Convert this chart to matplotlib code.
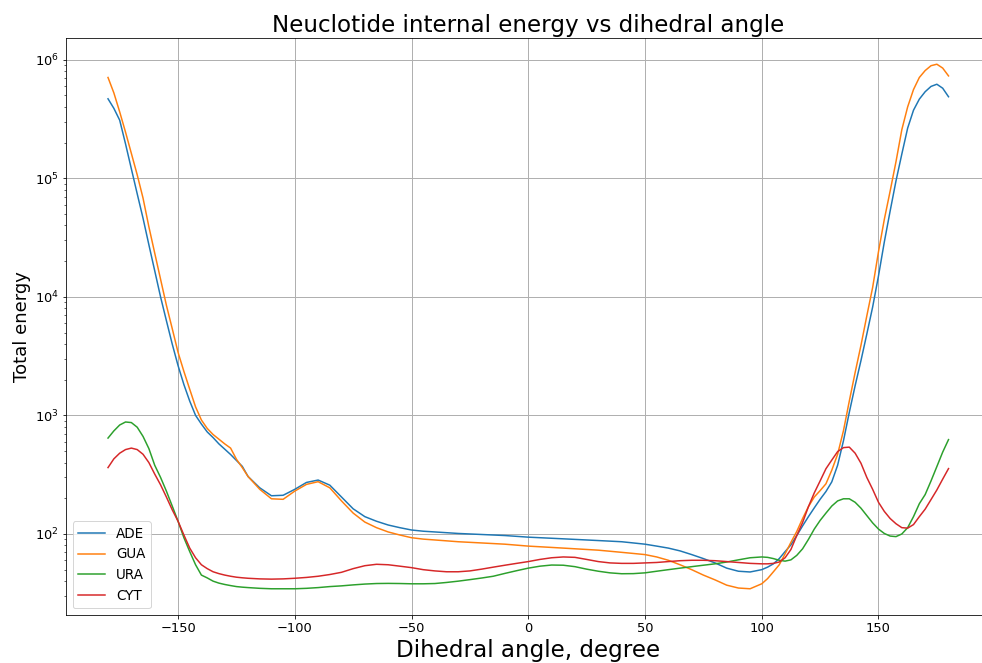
import matplotlib
matplotlib.use("Agg")
import matplotlib.pyplot as plt
import numpy as np

# dihedral angle samples, degree (finer steps where the curves are steep)
angle = np.concatenate([
    np.arange(-180, -119, 2.5),
    np.arange(-115, 96, 5),
    np.arange(100, 181, 2.5),
])

ade = [
    # -180 .. -120
    468e3, 389e3, 309e3, 195e3, 120e3, 74e3, 46e3, 27.5e3, 16.6e3, 10e3,
    6.3e3, 4.0e3, 2.63e3, 1.82e3, 1.32e3, 1.0e3, 845, 725, 650, 575,
    519, 468, 417, 372, 305,
    # -115 .. 95
    245, 210, 212, 238, 272, 285, 258, 205, 163, 140,
    128, 119, 113, 108, 105.5, 104, 102.5, 101, 100, 99,
    98, 97, 95.5, 94, 93, 92, 91, 90, 89, 88,
    87, 86, 84, 82, 79, 76, 72, 67, 62, 57,
    51.5, 48.5, 47.8,
    # 100 .. 180
    50, 52.5, 56, 62, 71, 81, 97, 117, 140, 166,
    196, 228, 275, 380, 611, 1.06e3, 1.78e3, 2.9e3, 4.85e3, 8.2e3,
    15e3, 29e3, 53e3, 95e3, 160e3, 265e3, 375e3, 465e3, 537e3, 595e3,
    621e3, 575e3, 487e3,
]

gua = [
    708e3, 525e3, 363e3, 245e3, 162e3, 107e3, 68e3, 39e3, 23.4e3, 14.1e3,
    8.5e3, 5.4e3, 3.4e3, 2.35e3, 1.66e3, 1.18e3, 914, 776, 690, 630,
    575, 530, 427, 363, 305,
    238, 198, 196, 230, 262, 276, 245, 190, 150, 126,
    113, 104, 98, 93, 90.5, 89, 87.5, 86, 85, 84,
    83, 82, 80.5, 79, 78, 77, 76, 75, 74, 73,
    71.5, 70, 68.5, 67, 64, 60, 55, 50, 45, 41,
    37, 35, 34.5,
    38, 42, 48, 55, 68, 85, 105, 135, 170, 205,
    232, 265, 345, 470, 743, 1.32e3, 2.3e3, 3.9e3, 6.9e3, 12e3,
    24e3, 45e3, 78e3, 138e3, 257e3, 400e3, 560e3, 708e3, 810e3, 890e3,
    916e3, 850e3, 730e3,
]

ura = [
    644, 740, 830, 880, 870, 795, 665, 525, 380, 300,
    230, 172, 128, 93, 71, 55, 45, 42.6, 40, 38.5,
    37.5, 36.7, 36, 35.6, 35.3,
    34.8, 34.5, 34.5, 34.5, 34.8, 35.3, 36, 36.5, 37.2, 37.8,
    38.2, 38.3, 38.2, 38, 38, 38.2, 39, 40, 41.2, 42.5,
    44, 46.5, 49, 51.5, 53.5, 54.7, 54.5, 53, 50.5, 48.5,
    47, 46.2, 46.3, 47, 48.5, 50, 51.5, 53, 54.5, 56,
    58, 60.5, 63,
    64, 63.5, 62, 60, 59, 60.5, 66, 75, 90, 110,
    130, 150, 172, 190, 198, 198, 185, 165, 143, 124,
    110, 101, 96, 95, 100, 113, 140, 180, 215, 280,
    370, 490, 625,
]

cyt = [
    363, 430, 480, 515, 530, 515, 470, 400, 320, 260,
    205, 160, 128, 98, 76, 63, 55, 51, 48, 46.3,
    45, 44, 43.2, 42.7, 42.3,
    41.8, 41.6, 41.8, 42.3, 43, 44, 45.5, 47.5, 51, 54,
    55.5, 55, 53.5, 52, 50, 48.8, 48, 48, 48.8, 50.5,
    52.5, 54.5, 56.5, 58.5, 61, 63, 64, 63.5, 61, 58.5,
    57, 56.5, 56.5, 57, 57.5, 58.5, 59.5, 60, 60, 59.5,
    58.5, 57.5, 56.5,
    56, 56, 56.5, 58, 63, 74, 97, 125, 170, 222,
    280, 355, 420, 495, 535, 540, 480, 395, 300, 238,
    185, 155, 135, 122, 113, 112, 120, 140, 162, 195,
    235, 290, 356,
]

series = [("ADE", ade), ("GUA", gua), ("URA", ura), ("CYT", cyt)]

DPI = 72
fig = plt.figure(figsize=(982 / DPI, 663 / DPI), dpi=DPI)
# right edge runs slightly past the figure, as in the original
ax = fig.add_axes([0.0672, 0.0724, 0.9415, 0.8703])

for name, values in series:
    ax.plot(angle, values, label=name)

ax.set_yscale("log")
ax.grid(True, linewidth=1.0)
ax.tick_params(axis="both", which="major", labelsize=13)
ax.set_title("Neuclotide internal energy vs dihedral angle", fontsize=23)
ax.set_xlabel("Dihedral angle, degree", fontsize=23)
ax.set_ylabel("Total energy", fontsize=18)
ax.legend(loc="lower left", fontsize=13.5)

fig.savefig("out.png", dpi=DPI)
